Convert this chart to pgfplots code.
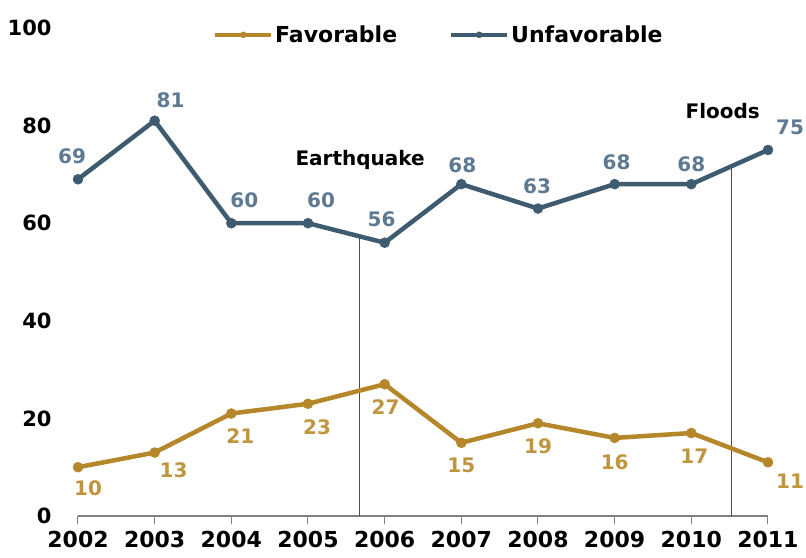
\documentclass[border=0pt]{standalone}
\usepackage{pgfplots}
\pgfplotsset{compat=1.18}
\usepackage{pgfplotstable}
\usepackage{fontspec}
\setmainfont{DejaVu Sans}
\definecolor{favc}{HTML}{B5862A}
\definecolor{favl}{HTML}{C09540}
\definecolor{unfc}{HTML}{3E5B70}
\definecolor{unfl}{HTML}{5D7A92}

\pgfplotstableread{
year val dx dy
2002 10 10 -21
2003 13 19 -18
2004 21 9 -23
2005 23 9 -23
2006 27 1 -23
2007 15 0 -23
2008 19 0 -23
2009 16 0 -24
2010 17 3 -23
2011 11 22 -19
}\favtable

\pgfplotstableread{
year val dx dy
2002 69 -6 23
2003 81 16 20
2004 60 13 23
2005 60 13 23
2006 56 -3 23
2007 68 1 19
2008 63 -1 22
2009 68 2 22
2010 68 0 20
2011 75 22 23
}\unftable

\begin{document}
\begin{tikzpicture}
\path[use as bounding box] (-78pt,-41pt) rectangle (728pt,516pt);
\begin{axis}[
  scale only axis, width=690pt, height=488pt,
  xmin=2002, xmax=2011, ymin=0, ymax=100,
  clip=false,
  axis x line=bottom, axis y line=left,
  axis line style={-, draw=gray, line width=1pt},
  y axis line style={draw=none},
  ytick={0,20,...,100}, ytick style={draw=none},
  xtick={2002,...,2011}, xtick style={draw=gray, line width=1pt},
  tick align=outside, major tick length=8pt,
  /pgf/number format/assume math mode=true,
  /pgf/number format/1000 sep={},
  xticklabel style={font=\bfseries\fontsize{22}{22}\selectfont, yshift=-4pt},
  yticklabel style={font=\bfseries\fontsize{21}{21}\selectfont, xshift=-15pt},
  legend style={at={(axis description cs:0.523,0.986)}, anchor=center, draw=none, fill=none,
    font=\bfseries\fontsize{22}{22}\selectfont, legend columns=2,
    /tikz/every even column/.append style={column sep=50pt}},
  legend image code/.code={\draw[mark repeat=2,mark phase=2,#1,line width=4pt,mark size=3pt] plot coordinates {(0pt,0pt) (28pt,0pt) (56pt,0pt)};},
]
\addplot[gray!60!black, line width=1.2pt, forget plot] coordinates {(2005.67,0) (2005.67,57.3)};
\addplot[gray!60!black, line width=1.2pt, forget plot] coordinates {(2010.52,0) (2010.52,71.6)};

\addplot[favc, line width=4.5pt, line join=round, mark=*, mark size=5pt, mark options={solid, fill=favc, draw=favc, line width=0.5pt},
  point meta=y, nodes near coords,
  visualization depends on={\thisrow{dx}\as\dx},
  visualization depends on={\thisrow{dy}\as\dy},
  nodes near coords style={anchor=center, xshift=\dx pt, yshift=\dy pt, text=favl, font=\bfseries\fontsize{20}{20}\selectfont}]
  table[x=year, y=val] {\favtable};
\addplot[unfc, line width=4.5pt, line join=round, mark=*, mark size=5pt, mark options={solid, fill=unfc, draw=unfc, line width=0.5pt},
  point meta=y, nodes near coords,
  visualization depends on={\thisrow{dx}\as\dx},
  visualization depends on={\thisrow{dy}\as\dy},
  nodes near coords style={anchor=center, xshift=\dx pt, yshift=\dy pt, text=unfl, font=\bfseries\fontsize{20}{20}\selectfont}]
  table[x=year, y=val] {\unftable};
\legend{Favorable, Unfavorable}

\node[font=\bfseries\fontsize{20}{20}\selectfont] at (axis cs:2005.68,73) {Earthquake};
\node[font=\bfseries\fontsize{20}{20}\selectfont] at (axis cs:2010.41,82.9) {Floods};
\end{axis}
\end{tikzpicture}
\end{document}
